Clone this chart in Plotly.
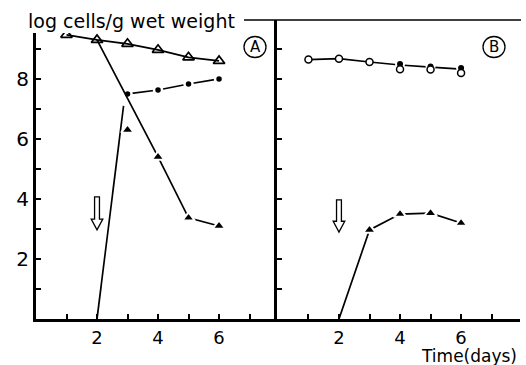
import plotly.graph_objects as go

W, H = 526, 365

# ---------------- data ----------------
days = [1, 2, 3, 4, 5, 6]

# Panel A
a_open_tri = [9.47, 9.3, 9.17, 8.97, 8.72, 8.6]          # open triangles
a_circ_x = [3, 4, 5, 6]
a_circ_y = [7.5, 7.63, 7.83, 8.0]                       # filled circles
a_tri_x = [3, 4, 5, 6]
a_tri_y = [6.3, 5.4, 3.37, 3.1]                        # filled triangles (markers)
a_drop_x = [2, 4, 5, 6]
a_drop_y = [9.3, 5.4, 3.37, 3.1]                        # descending line
a_rise_x = [2, 2.87]
a_rise_y = [0, 7.1]                                     # rising line

# Panel B
b_open_circ = [8.65, 8.68, 8.57, 8.33, 8.32, 8.2]       # open circles
b_fill_x = [4, 5, 6]
b_fill_y = [8.5, 8.42, 8.37]                            # filled circles
b_line_y = [8.65, 8.68, 8.57, 8.47, 8.4, 8.33]          # connecting line
b_tri_x = [2, 3, 4, 5, 6]
b_tri_y = [0, 2.97, 3.5, 3.53, 3.2]                     # filled triangles

# arrows (x, top, bottom)
arrow_a = (2, 4.07, 2.97)
arrow_b = (2, 3.97, 2.9)

x_tickvals = [1, 2, 3, 4, 5, 6, 7]
x_ticktext = ["", "2", "", "4", "", "6", ""]
y_tickvals = [1, 2, 3, 4, 5, 6, 7, 8, 9]
y_ticktext = ["", "2", "", "4", "", "6", "", "8", ""]

FONT = "DejaVu Sans"

def px(x):
    return x / W

def py(y):
    return 1 - y / H

fig = go.Figure()

blk = "black"
lw = 1.7

# Panel A traces
fig.add_trace(go.Scatter(x=days, y=a_open_tri, mode="lines+markers",
                         line=dict(color=blk, width=lw),
                         marker=dict(symbol="triangle-up-open", size=10, color=blk,
                                     line=dict(width=1.7, color=blk)),
                         xaxis="x", yaxis="y"))
fig.add_trace(go.Scatter(x=a_circ_x, y=a_circ_y, mode="lines+markers",
                         line=dict(color=blk, width=lw),
                         marker=dict(symbol="circle", size=8, color=blk,
                                     line=dict(width=2.5, color="white")),
                         xaxis="x", yaxis="y"))
fig.add_trace(go.Scatter(x=a_drop_x, y=a_drop_y, mode="lines",
                         line=dict(color=blk, width=lw), xaxis="x", yaxis="y"))
fig.add_trace(go.Scatter(x=a_rise_x, y=a_rise_y, mode="lines",
                         line=dict(color=blk, width=lw), xaxis="x", yaxis="y"))
fig.add_trace(go.Scatter(x=a_tri_x, y=a_tri_y, mode="markers",
                         marker=dict(symbol="triangle-up", size=11, color=blk,
                                     line=dict(width=2, color="white")),
                         xaxis="x", yaxis="y"))

# Panel B traces
fig.add_trace(go.Scatter(x=days, y=b_line_y, mode="lines",
                         line=dict(color=blk, width=lw), xaxis="x2", yaxis="y2"))
fig.add_trace(go.Scatter(x=b_fill_x, y=b_fill_y, mode="markers",
                         marker=dict(symbol="circle", size=8, color=blk,
                                     line=dict(width=2, color="white")),
                         xaxis="x2", yaxis="y2"))
fig.add_trace(go.Scatter(x=days, y=b_open_circ, mode="markers",
                         marker=dict(symbol="circle", size=7, color="white",
                                     line=dict(width=1.5, color=blk)),
                         xaxis="x2", yaxis="y2"))
fig.add_trace(go.Scatter(x=b_tri_x, y=b_tri_y, mode="lines",
                         line=dict(color=blk, width=lw), xaxis="x2", yaxis="y2"))
fig.add_trace(go.Scatter(x=b_tri_x[1:], y=b_tri_y[1:], mode="markers",
                         marker=dict(symbol="triangle-up", size=11, color=blk,
                                     line=dict(width=2, color="white")),
                         xaxis="x2", yaxis="y2"))

axis_common = dict(showgrid=False, zeroline=False, showline=True, linecolor=blk,
                   linewidth=3, ticks="inside", ticklen=5, tickwidth=1.5,
                   tickcolor=blk, fixedrange=True)

fig.update_layout(
    width=W, height=H, margin=dict(l=0, r=0, t=0, b=0),
    paper_bgcolor="white", plot_bgcolor="white", showlegend=False,
    xaxis=dict(domain=[px(36), px(277)], range=[0, 7.9], anchor="y",
               tickvals=x_tickvals, ticktext=x_ticktext,
               tickfont=dict(family=FONT, size=18, color=blk), **axis_common),
    yaxis=dict(domain=[py(319), py(33)], range=[0, 9.53], anchor="x",
               tickvals=y_tickvals, ticktext=y_ticktext,
               tickfont=dict(family=FONT, size=20, color=blk), **axis_common),
    xaxis2=dict(domain=[px(277), px(520)], range=[-0.03, 7.93], anchor="y2",
                tickvals=x_tickvals, ticktext=x_ticktext,
                tickfont=dict(family=FONT, size=18, color=blk), **axis_common),
    yaxis2=dict(domain=[py(319), py(20)], range=[0, 9.97], anchor="x2",
                tickvals=y_tickvals, ticktext=[""] * len(y_tickvals),
                tickfont=dict(family=FONT, size=18, color=blk), **axis_common),
)

shapes = []
# top rule after the title
shapes.append(dict(type="line", xref="paper", yref="paper",
                   x0=px(244), x1=px(521), y0=py(20), y1=py(20),
                   line=dict(color=blk, width=1.6)))
# circled letters
for cx, cy in [(255, 47), (494, 47)]:
    shapes.append(dict(type="circle", xref="paper", yref="paper",
                       x0=px(cx - 11), x1=px(cx + 11), y0=py(cy + 10.5), y1=py(cy - 10.5),
                       line=dict(color=blk, width=1.3)))

# hollow down arrows
def arrow_path(ax, top, bot):
    sw, hw, hh = 0.08, 0.19, 0.36
    neck = bot + hh
    return (f"M {ax - sw} {top} L {ax + sw} {top} L {ax + sw} {neck} "
            f"L {ax + hw} {neck} L {ax} {bot} L {ax - hw} {neck} L {ax - sw} {neck} Z")

shapes.append(dict(type="path", xref="x", yref="y", path=arrow_path(*arrow_a),
                   line=dict(color=blk, width=1.3), fillcolor="white"))
shapes.append(dict(type="path", xref="x2", yref="y2", path=arrow_path(*arrow_b),
                   line=dict(color=blk, width=1.3), fillcolor="white"))
fig.update_layout(shapes=shapes)

annotations = [
    dict(text="log cells/g wet weight", xref="paper", yref="paper",
         x=px(26), y=py(21), xanchor="left", yanchor="middle", showarrow=False,
         font=dict(family=FONT, size=19, color=blk)),
    dict(text="A", xref="paper", yref="paper", x=px(255), y=py(47),
         xanchor="center", yanchor="middle", showarrow=False,
         font=dict(family=FONT, size=15, color=blk)),
    dict(text="B", xref="paper", yref="paper", x=px(494), y=py(47),
         xanchor="center", yanchor="middle", showarrow=False,
         font=dict(family=FONT, size=15, color=blk)),
    dict(text="Time(days)", xref="paper", yref="paper", x=px(519), y=py(356),
         xanchor="right", yanchor="middle", showarrow=False,
         font=dict(family=FONT, size=17, color=blk)),
]
fig.update_layout(annotations=annotations)

fig.write_html("out.html", config={"displayModeBar": False},
               post_script="document.body.style.margin='0';document.body.style.overflow='hidden';")
